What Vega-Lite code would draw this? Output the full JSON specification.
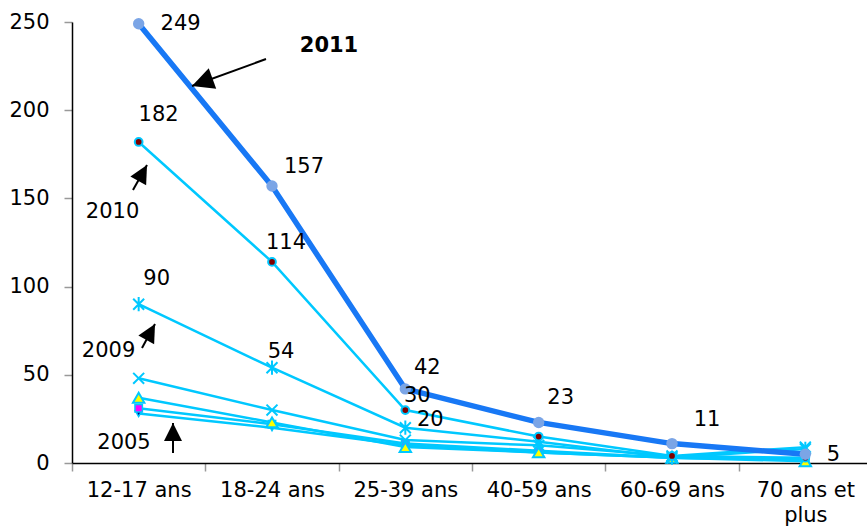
{
  "$schema": "https://vega.github.io/schema/vega-lite/v6.json",
  "width": 795,
  "height": 441,
  "autosize": {"type": "none"},
  "padding": {"left": 72, "top": 22, "right": 0, "bottom": 65},
  "background": "white",
  "config": {
    "view": {"stroke": null},
    "axis": {"grid": false, "labelFont": "DejaVu Sans", "labelFontSize": 21, "labelColor": "#000", "domainColor": "#000", "domainWidth": 1.5, "tickColor": "#999", "tickSize": 8, "tickWidth": 1.5},
    "axisY": {"labelPadding": 15},
    "axisX": {"labelPadding": 8, "labelAngle": 0, "tickBand": "extent", "labelLimit": 0, "labelOverlap": false, "labelLineHeight": 25, "labelExpr": "datum.value == '70 ans et plus' ? ['70 ans et', 'plus'] : datum.value"},
    "text": {"font": "DejaVu Sans", "fontSize": 21, "color": "#000"}
  },
  "datasets": {
    "main": [
      {"series": "2005", "age": "12-17 ans", "value": 28},
      {"series": "2005", "age": "18-24 ans", "value": 20},
      {"series": "2005", "age": "25-39 ans", "value": 10},
      {"series": "2005", "age": "40-59 ans", "value": 6},
      {"series": "2005", "age": "60-69 ans", "value": 3},
      {"series": "2005", "age": "70 ans et plus", "value": 2},
      {"series": "2006", "age": "12-17 ans", "value": 31},
      {"series": "2006", "age": "18-24 ans", "value": 22},
      {"series": "2006", "age": "25-39 ans", "value": 11},
      {"series": "2006", "age": "40-59 ans", "value": 7},
      {"series": "2006", "age": "60-69 ans", "value": 3},
      {"series": "2006", "age": "70 ans et plus", "value": 2},
      {"series": "2007", "age": "12-17 ans", "value": 37},
      {"series": "2007", "age": "18-24 ans", "value": 23},
      {"series": "2007", "age": "25-39 ans", "value": 9},
      {"series": "2007", "age": "40-59 ans", "value": 6},
      {"series": "2007", "age": "60-69 ans", "value": 3},
      {"series": "2007", "age": "70 ans et plus", "value": 1},
      {"series": "2008", "age": "12-17 ans", "value": 48},
      {"series": "2008", "age": "18-24 ans", "value": 30},
      {"series": "2008", "age": "25-39 ans", "value": 13},
      {"series": "2008", "age": "40-59 ans", "value": 10},
      {"series": "2008", "age": "60-69 ans", "value": 4},
      {"series": "2008", "age": "70 ans et plus", "value": 9},
      {"series": "2009", "age": "12-17 ans", "value": 90},
      {"series": "2009", "age": "18-24 ans", "value": 54},
      {"series": "2009", "age": "25-39 ans", "value": 20},
      {"series": "2009", "age": "40-59 ans", "value": 12},
      {"series": "2009", "age": "60-69 ans", "value": 3},
      {"series": "2009", "age": "70 ans et plus", "value": 8},
      {"series": "2010", "age": "12-17 ans", "value": 182},
      {"series": "2010", "age": "18-24 ans", "value": 114},
      {"series": "2010", "age": "25-39 ans", "value": 30},
      {"series": "2010", "age": "40-59 ans", "value": 15},
      {"series": "2010", "age": "60-69 ans", "value": 4},
      {"series": "2010", "age": "70 ans et plus", "value": 3},
      {"series": "2011", "age": "12-17 ans", "value": 249},
      {"series": "2011", "age": "18-24 ans", "value": 157},
      {"series": "2011", "age": "25-39 ans", "value": 42},
      {"series": "2011", "age": "40-59 ans", "value": 23},
      {"series": "2011", "age": "60-69 ans", "value": 11},
      {"series": "2011", "age": "70 ans et plus", "value": 5}
    ],
    "arrows": [
      {"arrow": "2011", "x": 0.955, "y": 229.0, "x2": 0.4, "y2": 213.7},
      {"arrow": "2010", "x": -0.0425, "y": 154.8, "x2": 0.0625, "y2": 168.9},
      {"arrow": "2009", "x": 0.025, "y": 65.2, "x2": 0.1225, "y2": 78.8},
      {"arrow": "2005", "x": 0.2575, "y": 5.7, "x2": 0.2575, "y2": 22.7}
    ],
    "years": [
      {"t": "2010", "x": -0.196, "y": 142.3},
      {"t": "2009", "x": -0.226, "y": 63.5},
      {"t": "2005", "x": -0.11, "y": 11.3},
      {"t": "2011", "x": 1.4275, "y": 236.4}
    ]
  },
  "resolve": {"scale": {"x": "independent"}},
  "layer": [
    {
      "data": {"name": "main"},
      "encoding": {
        "x": {"field": "age", "type": "nominal", "title": null, "sort": ["12-17 ans", "18-24 ans", "25-39 ans", "40-59 ans", "60-69 ans", "70 ans et plus"], "scale": {"type": "band", "paddingInner": 0, "paddingOuter": 0, "range": [0, 800]}},
        "y": {"field": "value", "type": "quantitative", "title": null, "axis": {"values": [0, 50, 100, 150, 200, 250]}, "scale": {"domain": [0, 250], "nice": false}}
      },
      "layer": [
        {"transform": [{"filter": "datum.series != '2011'"}], "mark": {"type": "line", "color": "#00C8FF", "strokeWidth": 2.5}, "encoding": {"detail": {"field": "series"}}},
        {"transform": [{"filter": "datum.series == '2005'"}], "mark": {"type": "point", "shape": "triangle-down", "filled": true, "fill": "#000080", "stroke": "#00C8FF", "strokeWidth": 1.5, "size": 45, "opacity": 1}},
        {"transform": [{"filter": "datum.series == '2006'"}], "mark": {"type": "point", "shape": "square", "filled": true, "fill": "#FF00FF", "stroke": "#00C8FF", "strokeWidth": 1.5, "size": 55, "opacity": 1}},
        {"transform": [{"filter": "datum.series == '2007'"}], "mark": {"type": "point", "shape": "triangle-up", "filled": true, "fill": "#FFFF00", "stroke": "#00C8FF", "strokeWidth": 2, "size": 130, "opacity": 1}},
        {"transform": [{"filter": "datum.series == '2008'"}], "mark": {"type": "point", "shape": "M-1,-1L1,1M1,-1L-1,1", "filled": false, "stroke": "#00C8FF", "strokeWidth": 2, "size": 120, "opacity": 1}},
        {"transform": [{"filter": "datum.series == '2009'"}], "mark": {"type": "point", "shape": "M-1,-1L1,1M1,-1L-1,1M0,-1.3L0,1.3", "filled": false, "stroke": "#00C8FF", "strokeWidth": 2, "size": 120, "opacity": 1}},
        {"transform": [{"filter": "datum.series == '2010'"}], "mark": {"type": "point", "shape": "circle", "filled": true, "fill": "#800000", "stroke": "#00C8FF", "strokeWidth": 2, "size": 60, "opacity": 1}},
        {"transform": [{"filter": "datum.series == '2011'"}], "mark": {"type": "line", "color": "#1878F5", "strokeWidth": 5.5}},
        {"transform": [{"filter": "datum.series == '2011'"}], "mark": {"type": "point", "shape": "circle", "filled": true, "fill": "#7BA5E6", "size": 130, "opacity": 1}},
        {"transform": [{"filter": "datum.series == '2011' && datum.age == '12-17 ans'"}], "mark": {"type": "text", "dx": 42, "dy": 0}, "encoding": {"text": {"field": "value"}}},
        {"transform": [{"filter": "datum.series == '2011' && datum.age == '18-24 ans'"}], "mark": {"type": "text", "dx": 32, "dy": -19}, "encoding": {"text": {"field": "value"}}},
        {"transform": [{"filter": "datum.series == '2011' && datum.age == '25-39 ans'"}], "mark": {"type": "text", "dx": 22, "dy": -21}, "encoding": {"text": {"field": "value"}}},
        {"transform": [{"filter": "datum.series == '2011' && datum.age == '40-59 ans'"}], "mark": {"type": "text", "dx": 22, "dy": -24}, "encoding": {"text": {"field": "value"}}},
        {"transform": [{"filter": "datum.series == '2011' && datum.age == '60-69 ans'"}], "mark": {"type": "text", "dx": 35, "dy": -24}, "encoding": {"text": {"field": "value"}}},
        {"transform": [{"filter": "datum.series == '2011' && datum.age == '70 ans et plus'"}], "mark": {"type": "text", "dx": 28, "dy": 1}, "encoding": {"text": {"field": "value"}}},
        {"transform": [{"filter": "datum.series == '2010' && datum.age == '12-17 ans'"}], "mark": {"type": "text", "dx": 20, "dy": -27}, "encoding": {"text": {"field": "value"}}},
        {"transform": [{"filter": "datum.series == '2010' && datum.age == '18-24 ans'"}], "mark": {"type": "text", "dx": 14, "dy": -19}, "encoding": {"text": {"field": "value"}}},
        {"transform": [{"filter": "datum.series == '2010' && datum.age == '25-39 ans'"}], "mark": {"type": "text", "dx": 12, "dy": -14}, "encoding": {"text": {"field": "value"}}},
        {"transform": [{"filter": "datum.series == '2009' && datum.age == '12-17 ans'"}], "mark": {"type": "text", "dx": 18, "dy": -25}, "encoding": {"text": {"field": "value"}}},
        {"transform": [{"filter": "datum.series == '2009' && datum.age == '18-24 ans'"}], "mark": {"type": "text", "dx": 9, "dy": -16}, "encoding": {"text": {"field": "value"}}},
        {"transform": [{"filter": "datum.series == '2009' && datum.age == '25-39 ans'"}], "mark": {"type": "text", "dx": 25, "dy": -8}, "encoding": {"text": {"field": "value"}}}
      ]
    },
    {
      "layer": [
        {
          "data": {"name": "arrows"},
          "mark": {"type": "rule", "color": "#000", "strokeWidth": 2},
          "encoding": {
            "x": {"field": "x", "type": "quantitative", "axis": null, "scale": {"domain": [-0.5, 5.5], "range": [0, 800], "nice": false, "zero": false}},
            "x2": {"field": "x2"},
            "y": {"field": "y", "type": "quantitative", "title": null, "axis": {"values": [0, 50, 100, 150, 200, 250]}, "scale": {"domain": [0, 250], "nice": false}},
            "y2": {"field": "y2"}
          }
        },
        {
          "data": {"name": "arrows"},
          "transform": [{"filter": "datum.arrow == '2011'"}],
          "mark": {"type": "point", "shape": "M0,0L0.5,1L-0.5,1Z", "filled": true, "color": "#000", "size": 1900, "angle": 250, "opacity": 1},
          "encoding": {
            "x": {"field": "x2", "type": "quantitative", "axis": null, "scale": {"domain": [-0.5, 5.5], "range": [0, 800], "nice": false, "zero": false}},
            "y": {"field": "y2", "type": "quantitative", "title": null, "axis": {"values": [0, 50, 100, 150, 200, 250]}, "scale": {"domain": [0, 250], "nice": false}}
          }
        },
        {
          "data": {"name": "arrows"},
          "transform": [{"filter": "datum.arrow == '2010' || datum.arrow == '2009'"}],
          "mark": {"type": "point", "shape": "M0,0L0.5,1L-0.5,1Z", "filled": true, "color": "#000", "size": 1300, "angle": 29, "opacity": 1},
          "encoding": {
            "x": {"field": "x2", "type": "quantitative", "axis": null, "scale": {"domain": [-0.5, 5.5], "range": [0, 800], "nice": false, "zero": false}},
            "y": {"field": "y2", "type": "quantitative", "title": null, "axis": {"values": [0, 50, 100, 150, 200, 250]}, "scale": {"domain": [0, 250], "nice": false}}
          }
        },
        {
          "data": {"name": "arrows"},
          "transform": [{"filter": "datum.arrow == '2005'"}],
          "mark": {"type": "point", "shape": "M0,0L0.5,1L-0.5,1Z", "filled": true, "color": "#000", "size": 1300, "angle": 0, "opacity": 1},
          "encoding": {
            "x": {"field": "x2", "type": "quantitative", "axis": null, "scale": {"domain": [-0.5, 5.5], "range": [0, 800], "nice": false, "zero": false}},
            "y": {"field": "y2", "type": "quantitative", "title": null, "axis": {"values": [0, 50, 100, 150, 200, 250]}, "scale": {"domain": [0, 250], "nice": false}}
          }
        },
        {
          "data": {"name": "years"},
          "transform": [{"filter": "datum.t != '2011'"}],
          "mark": {"type": "text", "baseline": "middle"},
          "encoding": {
            "x": {"field": "x", "type": "quantitative", "axis": null, "scale": {"domain": [-0.5, 5.5], "range": [0, 800], "nice": false, "zero": false}},
            "y": {"field": "y", "type": "quantitative", "title": null, "axis": {"values": [0, 50, 100, 150, 200, 250]}, "scale": {"domain": [0, 250], "nice": false}},
            "text": {"field": "t"}
          }
        },
        {
          "data": {"name": "years"},
          "transform": [{"filter": "datum.t == '2011'"}],
          "mark": {"type": "text", "fontWeight": "bold", "baseline": "middle"},
          "encoding": {
            "x": {"field": "x", "type": "quantitative", "axis": null, "scale": {"domain": [-0.5, 5.5], "range": [0, 800], "nice": false, "zero": false}},
            "y": {"field": "y", "type": "quantitative", "title": null, "axis": {"values": [0, 50, 100, 150, 200, 250]}, "scale": {"domain": [0, 250], "nice": false}},
            "text": {"field": "t"}
          }
        }
      ]
    }
  ]
}
